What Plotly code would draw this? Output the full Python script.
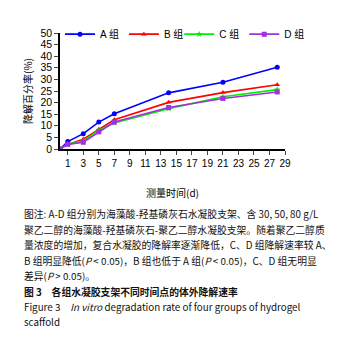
import plotly.graph_objects as go

days = [0, 1, 3, 5, 7, 14, 21, 28]
group_a = [0, 3.2, 6.6, 11.6, 15.2, 24.2, 28.8, 35.2]
group_b = [0, 2.0, 4.2, 8.5, 12.6, 20.1, 24.3, 27.7]
group_c = [0, 2.0, 3.5, 8.1, 11.2, 17.4, 22.5, 25.6]
group_d = [0, 2.0, 2.9, 7.4, 11.6, 17.9, 21.8, 24.6]
names = ["A 组", "B 组", "C 组", "D 组"]
colors = ["#0000FF", "#FF0000", "#00EE00", "#A030E0"]
symbols = ["circle", "triangle-up", "star", "square"]
legend_ids = ["legend", "legend", "legend2", "legend2"]
x_ticks = list(range(1, 30, 2))

caption_lines = [
    "图注: A-D 组分别为海藻酸-羟基磷灰石水凝胶支架、含 30, 50, 80 g/L",
    "聚乙二醇的海藻酸-羟基磷灰石-聚乙二醇水凝胶支架。随着聚乙二醇质",
    "量浓度的增加，复合水凝胶的降解率逐渐降低，C、D 组降解速率较 A、",
    "B 组明显降低(<i>P</i> < 0.05)，B 组也低于 A 组(<i>P</i> < 0.05)，C、D 组无明显",
    "差异(<i>P</i> > 0.05)。",
    "<b>图 3　各组水凝胶支架不同时间点的体外降解速率</b>",
    "Figure 3　<i>In vitro</i> degradation rate of four groups of hydrogel",
    "scaffold",
]
caption_y = [214, 230, 245, 261, 276, 292, 307, 322]

FONT = "Liberation Sans, Arial, Noto Sans CJK SC, sans-serif"

fig = go.Figure()
for name, ys, col, sym, lg in zip(names, [group_a, group_b, group_c, group_d], colors, symbols, legend_ids):
    fig.add_trace(go.Scatter(
        x=days, y=ys, name=name, mode="lines+markers",
        line=dict(color=col, width=1.6),
        marker=dict(symbol=sym, size=5, color=col),
        legend=lg,
    ))

# page body has an 8px offset; compensate
OFF = 8
W, H = 345 - OFF, 342 - OFF
L, R, T, B = 60 - OFF, 60, 22 - OFF, 193
bottom_px = 149  # plot bottom in page coordinates
for txt, yp in zip(caption_lines, caption_y):
    fig.add_annotation(
        text=txt, xref="paper", yref="paper", x=0, y=0,
        xanchor="left", yanchor="middle", xshift=-38, yshift=-(yp - bottom_px),
        showarrow=False, align="left",
        font=dict(family="Noto Sans CJK SC, Liberation Sans, sans-serif", size=9.8, color="#111"),
    )

leg_common = dict(orientation="h", y=1.115, xanchor="left", yanchor="top",
                  bgcolor="rgba(0,0,0,0)", font=dict(size=10), itemwidth=30)

fig.update_layout(
    width=W, height=H,
    margin=dict(l=L, r=R, t=T, b=B),
    paper_bgcolor="white", plot_bgcolor="white",
    font=dict(family=FONT, size=10, color="black"),
    showlegend=True,
    legend=dict(x=0.0, **leg_common),
    legend2=dict(x=0.53, **leg_common),
    xaxis=dict(
        range=[0, 29], tickvals=x_ticks, ticks="outside", ticklen=4,
        showline=True, linecolor="black", linewidth=1.5, showgrid=False,
        zeroline=False, tickfont=dict(size=10),
        title=dict(text="测量时间(d)", font=dict(size=10, family="Noto Sans CJK SC, sans-serif"), standoff=22),
    ),
    yaxis=dict(
        range=[0, 50], dtick=5, ticks="outside", ticklen=4,
        showline=True, linecolor="black", linewidth=1.5, showgrid=False,
        zeroline=False, tickfont=dict(size=10.5),
        title=dict(text="降解百分率(%)", font=dict(size=10, family="Noto Sans CJK SC, sans-serif"), standoff=6),
    ),
)

fig.write_html("out.html")
